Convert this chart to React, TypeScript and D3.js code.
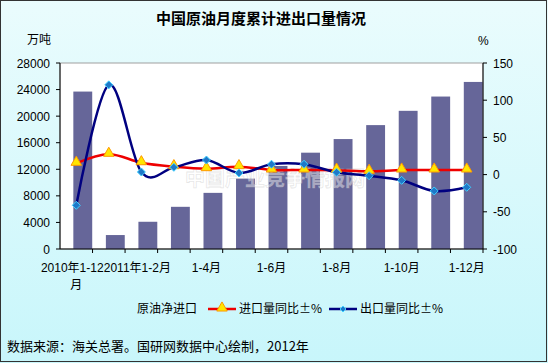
import React from 'react';
import * as d3 from 'd3';

const categories = [
  '2010年1-12月', '2011年1月', '2011年1-2月', '1-3月', '1-4月', '1-5月', '1-6月',
  '1-7月', '1-8月', '1-9月', '1-10月', '1-11月', '1-12月',
];
// 原油净进口 (万吨)
const netImport = [23700, 2100, 4100, 6350, 8450, 10600, 12500, 14500, 16550, 18650, 20800, 22950, 25150];
// 进口量同比±%
const importYoY = [15.2, 27.3, 16, 10.7, 8, 10.7, 6.2, 6.2, 6, 4.4, 6.2, 6.2, 6.2];
// 出口量同比±%
const exportYoY = [-41.3, 120.6, 3.5, 9.8, 19.6, 2.2, 13.9, 13.9, 3.1, -1.5, -7.7, -22, -17.1];

const leftTicks = [0, 4000, 8000, 12000, 16000, 20000, 24000, 28000];
const rightTicks = [-100, -50, 0, 50, 100, 150];
const shownLabels = [0, 2, 4, 6, 8, 10, 12];

const W = 548;
const H = 363;
const plot = { left: 60, right: 483, top: 63, bottom: 249 };
const numFont = '"Liberation Sans", Arial, "Noto Sans CJK SC", sans-serif';
const cjkFont = '"Noto Sans CJK SC", "Liberation Sans", sans-serif';

export default function App() {
  const x = d3.scaleBand<string>().domain(categories).range([plot.left, plot.right]).padding(0);
  const bw = x.bandwidth();
  const cx = (i: number) => (x(categories[i]) as number) + bw / 2;
  const yL = d3.scaleLinear().domain([0, 28000]).range([plot.bottom, plot.top]);
  const yR = d3.scaleLinear().domain([-100, 150]).range([plot.bottom, plot.top]);

  const line = d3
    .line<number>()
    .x((_, i) => cx(i))
    .y((d) => yR(d))
    .curve(d3.curveCardinal.tension(0));

  const tri = d3.symbol().type(d3.symbolTriangle).size(48)();
  const dia = (s: number) => `M0,${-s}L${s},0L0,${s}L${-s},0Z`;

  return (
    <div style={{ position: 'fixed', left: 0, top: 0 }}>
      <svg width={W} height={H} style={{ display: 'block' }}>
        <defs>
          <linearGradient id="bg" x1="0" y1="0" x2="0" y2="1">
            <stop offset="0" stopColor="#eafcfd" />
            <stop offset="1" stopColor="#c8f6fb" />
          </linearGradient>
        </defs>
        <rect x={0} y={0} width={W} height={H} fill="url(#bg)" />
        <rect x={0.5} y={0.5} width={W - 2} height={H - 2} fill="none" stroke="#333" />

        <text x={261} y={24} textAnchor="middle" fontFamily={cjkFont} fontWeight="bold" fontSize={15}>
          中国原油月度累计进出口量情况
        </text>
        <text x={27} y={44} fontFamily={cjkFont} fontSize={12}>万吨</text>
        <text x={478} y={45} fontFamily={numFont} fontSize={12}>%</text>

        {/* plot area */}
        <rect x={plot.left} y={plot.top} width={plot.right - plot.left} height={plot.bottom - plot.top}
          fill="#fff" stroke="#a0a0a0" />

        {netImport.map((v, i) => (
          <rect key={i} x={(x(categories[i]) as number) + bw * 0.41} y={yL(v)} width={bw * 0.58}
            height={plot.bottom - yL(v)} fill="#666699" />
        ))}

        <text x={275} y={186} textAnchor="middle" fontFamily={cjkFont} fontWeight="bold" fontSize={20}
          fill="#ffffff" fillOpacity={0.45} stroke="#b8b8b8" strokeOpacity={0.35} strokeWidth={0.8}>
          中国产业竞争情报网
        </text>

        {/* axes */}
        <line x1={plot.left} x2={plot.left} y1={plot.top} y2={plot.bottom} stroke="#000" />
        <line x1={plot.right} x2={plot.right} y1={plot.top} y2={plot.bottom} stroke="#000" />
        <line x1={plot.left} x2={plot.right} y1={plot.bottom} y2={plot.bottom} stroke="#000" />

        {leftTicks.map((t) => (
          <g key={t}>
            <line x1={plot.left - 4} x2={plot.left} y1={yL(t)} y2={yL(t)} stroke="#000" />
            <text x={50} y={yL(t) + 4.5} textAnchor="end" fontFamily={numFont} fontSize={12}>{t}</text>
          </g>
        ))}
        {rightTicks.map((t) => (
          <g key={t}>
            <line x1={plot.right} x2={plot.right + 4} y1={yR(t)} y2={yR(t)} stroke="#000" />
            <text x={493} y={yR(t) + 4.5} fontFamily={numFont} fontSize={12}>{t}</text>
          </g>
        ))}
        {categories.map((c) => (
          <line key={c} x1={(x(c) as number) + bw} x2={(x(c) as number) + bw} y1={plot.bottom}
            y2={plot.bottom + 4} stroke="#000" />
        ))}
        {shownLabels.map((i) =>
          i === 0 ? (
            <g key={i}>
              <text x={cx(i) - 4} y={272} textAnchor="middle" fontFamily={numFont} fontSize={12}>2010年1-12</text>
              <text x={cx(i)} y={289} textAnchor="middle" fontFamily={numFont} fontSize={12}>月</text>
            </g>
          ) : (
            <text key={i} x={cx(i) - (i === 2 ? 4 : 0)} y={272} textAnchor="middle" fontFamily={numFont} fontSize={12}>
              {categories[i]}
            </text>
          )
        )}

        {/* lines */}
        <path d={line(importYoY) as string} fill="none" stroke="#ee0000" strokeWidth={2.5} />
        <path d={line(exportYoY) as string} fill="none" stroke="#000080" strokeWidth={2.5} />
        {importYoY.map((v, i) => (
          <path key={i} d={tri as string} transform={`translate(${cx(i)},${yR(v) - 1})`}
            fill="#ffe600" stroke="#ff9900" strokeWidth={1} />
        ))}
        {exportYoY.map((v, i) => (
          <path key={i} d={dia(4)} transform={`translate(${cx(i)},${yR(v)})`}
            fill="#1f78c8" stroke="#40d0ff" strokeWidth={1} />
        ))}

        {/* legend */}
        <text x={137} y={313} fontFamily={cjkFont} fontSize={12}>原油净进口</text>
        <line x1={208} x2={236} y1={309} y2={309} stroke="#ee0000" strokeWidth={2.5} />
        <path d={tri as string} transform="translate(222,308)" fill="#ffe600" stroke="#ff9900" />
        <text x={239} y={313} fontFamily={cjkFont} fontSize={12}>进口量同比±%</text>
        <line x1={329} x2={357} y1={309} y2={309} stroke="#000080" strokeWidth={2.5} />
        <path d={dia(3)} transform="translate(343,309)" fill="#1f78c8" stroke="#40d0ff" />
        <text x={360} y={313} fontFamily={cjkFont} fontSize={12}>出口量同比±%</text>

        <text x={7} y={351} fontFamily={cjkFont} fontSize={13}>数据来源：海关总署。国研网数据中心绘制，2012年</text>
      </svg>
    </div>
  );
}
